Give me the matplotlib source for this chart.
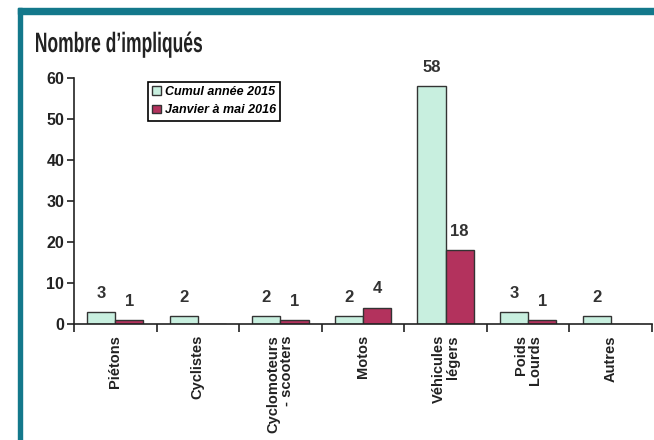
import numpy as np
import matplotlib.pyplot as plt
from matplotlib.patches import Rectangle, PathPatch
from matplotlib.textpath import TextPath
from matplotlib.font_manager import FontProperties
from matplotlib.transforms import Affine2D, IdentityTransform

categories = ['Piétons', 'Cyclistes', 'Cyclomoteurs\n- scooters', 'Motos',
              'Véhicules\nlégers', 'Poids\nLourds', 'Autres']
cumul_2015 = [3, 2, 2, 2, 58, 3, 2]
jan_mai_2016 = [1, 0, 1, 4, 18, 1, 0]
series_names = ['Cumul année 2015', 'Janvier à mai 2016']
title = "Nombre d\u2019impliqués"

mint = '#c8efdf'
maroon = '#b3325d'
teal = '#13788b'

fig = plt.figure(figsize=(6.54, 4.40), dpi=100)
fig.patch.set_facecolor('white')

# teal frame (left and top)
fig.patches.append(Rectangle((18/654, 0), 4/654, 1 - 8/440, transform=fig.transFigure,
                             color=teal, zorder=0))
fig.patches.append(Rectangle((18/654, 1 - 14/440), 1, 6/440, transform=fig.transFigure,
                             color=teal, zorder=0))

# condensed bold title: squeeze a text path horizontally
tp = TextPath((0, 0), title, size=28, prop=FontProperties(family='Liberation Sans', weight='bold'))
ext = tp.get_extents()
sx = (202 - 36) / ext.width
tr = Affine2D().translate(-ext.x0, 0).scale(sx, 1).translate(36, 440 - 52)
fig.patches.append(PathPatch(tr.transform_path(tp), transform=IdentityTransform(),
                             color='#222222', lw=0))

ax = fig.add_axes([74/654, 1 - 324/440, (652 - 74)/654, (324 - 78)/440])
x = np.arange(len(categories))
w = 0.34
ax.bar(x - w/2, cumul_2015, w, color=mint, edgecolor='#333333', linewidth=1,
       label=series_names[0])
ax.bar(x + w/2, jan_mai_2016, w, color=maroon, edgecolor='#333333', linewidth=1,
       label=series_names[1])

lab_font = dict(fontsize=12, fontweight='bold', color='#333333', family='Liberation Sans')
for xs, vals in [(x - w/2, cumul_2015), (x + w/2, jan_mai_2016)]:
    for xi, v in zip(xs, vals):
        if v == 0:
            continue
        ax.annotate(str(v), (xi, v), xytext=(0, 8), textcoords='offset points',
                    ha='center', va='bottom', **lab_font)

ax.set_xlim(-0.5, len(categories) - 0.5)
ax.set_ylim(0, 60)
ax.set_yticks(range(0, 61, 10))
ax.set_yticklabels([str(v) for v in range(0, 61, 10)], fontsize=11.5, fontweight='bold',
                   family='Liberation Sans', color='#222222')
ax.tick_params(axis='y', direction='out', length=5, width=1.2, pad=2, color='#222222')

ax.set_xticks(np.arange(len(categories) + 1) - 0.5)
ax.set_xticklabels([])
ax.tick_params(axis='x', which='major', direction='out', length=6, width=1.2, color='#222222')
ax.set_xticks(x, minor=True)
ax.set_xticklabels(categories, minor=True, rotation=90, ha='center', va='top',
                   ma='right', fontsize=10.5, fontweight='bold', family='Liberation Sans',
                   color='#222222', linespacing=1.0)
ax.tick_params(axis='x', which='minor', length=0, pad=8)

for s in ['top', 'right']:
    ax.spines[s].set_visible(False)
for s in ['left', 'bottom']:
    ax.spines[s].set_linewidth(1.2)
    ax.spines[s].set_color('#222222')

leg = ax.legend(loc='upper left', bbox_to_anchor=(0.128, 0.985), borderaxespad=0,
                fancybox=False, edgecolor='black', framealpha=1,
                prop=dict(family='Liberation Sans', weight='bold', style='italic', size=9),
                handlelength=0.7, handleheight=0.7, handletextpad=0.3, labelspacing=0.5,
                borderpad=0.35)
leg.get_frame().set_linewidth(1.2)

fig.savefig('out.png', dpi=100)
